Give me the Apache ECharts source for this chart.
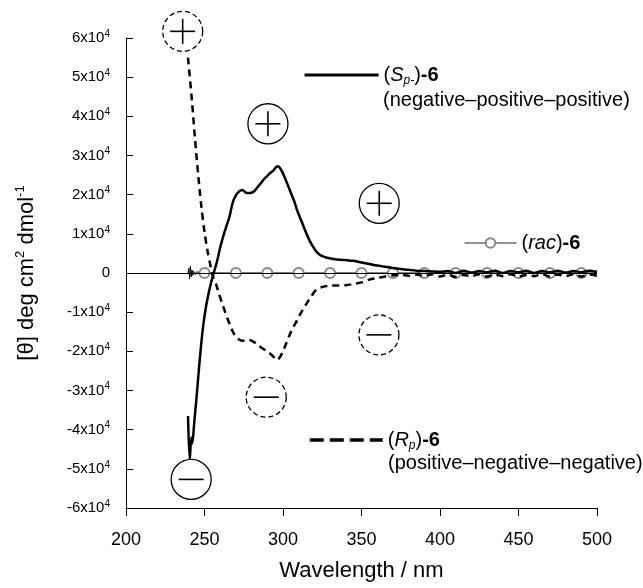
<!DOCTYPE html>
<html>
<head>
<meta charset="utf-8">
<script src="https://cdn.jsdelivr.net/npm/echarts@6/dist/echarts.min.js"></script>
<style>
  html, body { margin: 0; background: #fff; }
  #chart { width: 643px; height: 588px; }
</style>
</head>
<body>
<div id="chart"></div>
<script>
// (Sp)-6, solid trace
const spX = [239.5, 240.6, 241.6, 242.2, 243.5, 245, 247, 249, 251, 253, 255, 256, 258, 260, 262, 264, 266, 268, 270, 272,
  274, 276, 278, 280, 282, 284, 286, 288, 290, 292, 294, 296, 297, 299, 301, 303, 305, 307, 309, 311,
  313, 315, 317, 319, 321, 323, 325, 328, 332, 336, 340, 345, 350, 355, 360, 365, 370, 375, 380, 385,
  390, 395, 400, 405, 410, 415, 420, 425, 430, 435, 440, 445, 450, 455, 460, 465, 470, 475, 480, 485,
  490, 495, 500];
const spY = [-36500, -47800, -42000, -43500, -38000, -31500, -22000, -14000, -8500, -4500, -1200, 200, 3000, 6500, 9500, 12000, 14500, 18000, 19800, 20800,
  21200, 20600, 20400, 20500, 21000, 22000, 23000, 24000, 24800, 25600, 26200, 27200, 27200, 26200, 24500, 22500, 20500, 18500, 16000, 14000,
  12000, 10000, 8200, 6800, 5600, 4800, 4300, 3900, 3600, 3400, 3300, 3100, 2700, 2300, 1900, 1600, 1300, 1000, 800, 600,
  500, 400, 300, 500, 0, 600, 100, 500, 200, 600, 0, 500, 200, 600, 0, 500, 200, 600, 100, 500,
  200, 600, 300];

// (Rp)-6, dashed trace
const rpX = [239.5, 242, 244, 246, 248, 250, 252, 254, 255.5, 257.5, 259, 261, 263, 265, 267, 269, 271, 273, 275, 277,
  279, 281, 283, 285, 287, 289, 291, 293, 295, 296.5, 298, 300, 302, 304, 306, 308, 310, 312, 314, 316,
  318, 320, 322, 324, 327, 330, 335, 340, 345, 350, 355, 360, 365, 370, 375, 380, 385, 390, 395, 400,
  405, 410, 415, 420, 425, 430, 435, 440, 445, 450, 455, 460, 465, 470, 475, 480, 485, 490, 495, 500];
const rpY = [55000, 44000, 34000, 25000, 17000, 10500, 5500, 1500, -1000, -3000, -5000, -7500, -9800, -12000, -14000, -15700, -16700, -17200, -17300, -17400,
  -17200, -17500, -18000, -18700, -19300, -19800, -20300, -21000, -21800, -22200, -21500, -20000, -18000, -16000, -14200, -12800, -11200, -9800, -8500, -7200,
  -6000, -4800, -4100, -3700, -3400, -3200, -3200, -3100, -2800, -2400, -1700, -1300, -900, -600, -500, -700, -400, -800, -300, -900,
  -400, -1000, -500, -800, -300, -900, -400, -800, -300, -900, -500, -800, -300, -900, -400, -800, -300, -900, -400, -700];

// (rac)-6, thin trace with open circles
const racX = [239.5, 240, 240.5, 241, 241.5, 242, 242.5, 243, 244, 245, 246, 247, 248, 250, 270, 290, 310, 330, 350, 370,
  390, 410, 430, 450, 470, 490, 500];
const racY = [0, 1200, -1500, 1800, -1000, 800, -600, 500, -400, 300, -200, 100, 0, 0, 0, 0, 0, 0, 0, 0,
  0, 0, 0, 0, 0, 0, 0];
const racMarkers = [250, 270, 290, 310, 330, 350, 370, 390, 410, 430, 450, 470, 490];

// sign circles: 1 = plus, 0 = minus; dashed 1 = (Rp), 0 = (Sp)
const signX = [236.1, 290.4, 361.3, 241.5, 289.3, 361.1];
const signY = [61700, 38100, 17800, -52700, -31700, -15800];
const signPlus = [1, 1, 1, 0, 0, 0];
const signDashed = [1, 0, 0, 0, 1, 1];

const xTicks = { min: 200, max: 500, interval: 50 };
const yTicks = { min: -60000, max: 60000, interval: 10000 };

const font = 'Liberation Sans';
const chart = echarts.init(document.getElementById('chart'));

const pairs = (xs, ys) => xs.map((x, i) => [x, ys[i]]);

const racData = racX.map((x, i) => ({
  value: [x, racY[i]],
  symbol: racMarkers.includes(x) ? 'emptyCircle' : 'none'
}));

const legendRich = {
  it: { fontStyle: 'italic', fontSize: 20, fontFamily: font, color: '#000' },
  sub: { fontStyle: 'italic', fontSize: 12, fontFamily: font, color: '#000', lineHeight: 12, verticalAlign: 'bottom' },
  b: { fontWeight: 'bold', fontSize: 20, fontFamily: font, color: '#000' }
};
const legendNames = {
  Sp: '({it|S}{sub|p-}){b|-6}',
  Rp: '({it|R}{sub|p}){b|-6}',
  rac: '({it|rac}){b|-6}'
};
const legendBase = (name, left, top, w, h, lineStyle, itemStyle) => ({
  data: [name],
  left: left,
  top: top,
  padding: 0,
  orient: 'horizontal',
  itemWidth: w,
  itemHeight: h,
  itemGap: 0,
  selectedMode: false,
  lineStyle: lineStyle,
  itemStyle: itemStyle,
  formatter: n => legendNames[n],
  textStyle: { fontSize: 20, fontFamily: font, color: '#000', lineHeight: 24, rich: legendRich }
});

const option = {
  animation: false,
  backgroundColor: '#fff',
  grid: { left: 126, right: 46, top: 38, bottom: 80 },
  legend: [
    legendBase('Sp', 303, 63, 74, 14, { width: 3, color: '#000' }, { opacity: 0 }),
    legendBase('rac', 464, 231, 52, 12, { width: 1, color: '#222' }, { color: '#888', borderColor: '#888' }),
    legendBase('Rp', 308, 428, 73, 14, { width: 3.5, color: '#000', type: [14, 6] }, { opacity: 0 })
  ],
  graphic: [
    { type: 'text', left: 383, top: 90, style: { text: '(negative\u2013positive\u2013positive)', font: '20px ' + font, fill: '#000' } },
    { type: 'text', left: 388, top: 453, style: { text: '(positive\u2013negative\u2013negative)', font: '20px ' + font, fill: '#000' } }
  ],
  xAxis: {
    type: 'value',
    min: xTicks.min,
    max: xTicks.max,
    interval: xTicks.interval,
    name: 'Wavelength / nm',
    nameLocation: 'middle',
    nameGap: 52,
    nameTextStyle: { fontSize: 22, fontFamily: font, color: '#000' },
    axisLine: { onZero: false, lineStyle: { color: '#000', width: 1 } },
    axisTick: { inside: false, length: 8, lineStyle: { color: '#000' } },
    axisLabel: { fontSize: 18, fontFamily: font, color: '#000', margin: 23 },
    splitLine: { show: false }
  },
  yAxis: {
    type: 'value',
    min: yTicks.min,
    max: yTicks.max,
    interval: yTicks.interval,
    name: '[\u03b8] deg cm{sup|2} dmol{sup|-1}',
    nameLocation: 'middle',
    nameRotate: 90,
    nameGap: 86,
    nameTextStyle: {
      fontSize: 22, fontFamily: font, color: '#000', lineHeight: 26,
      rich: { sup: { fontSize: 13, fontFamily: font, color: '#000', lineHeight: 13, verticalAlign: 'top' } }
    },
    axisLine: { show: true, lineStyle: { color: '#000', width: 1 } },
    axisTick: { show: true, inside: true, length: 7, lineStyle: { color: '#000' } },
    axisLabel: {
      fontSize: 15, fontFamily: font, color: '#000', margin: 16, lineHeight: 18,
      formatter: v => v === 0 ? '0' : (v / 10000) + 'x10{sup|4}',
      rich: { sup: { fontSize: 10, fontFamily: font, color: '#000', lineHeight: 10, verticalAlign: 'top' } }
    },
    splitLine: { show: false }
  },
  series: [
    {
      name: 'rac',
      type: 'line',
      data: racData,
      symbol: 'emptyCircle',
      symbolSize: 10,
      showAllSymbol: true,
      lineStyle: { color: '#000', width: 1 },
      itemStyle: { color: '#888', borderColor: '#888', borderWidth: 1 },
      markLine: {
        silent: true,
        symbol: 'none',
        label: { show: false },
        lineStyle: { color: '#000', width: 1, type: 'solid' },
        data: [{ yAxis: 0 }]
      },
      z: 2
    },
    {
      name: 'Sp',
      type: 'line',
      data: pairs(spX, spY),
      symbol: 'none',
      smooth: 0.3,
      lineStyle: { color: '#000', width: 2.5 },
      itemStyle: { color: '#000' },
      z: 3
    },
    {
      name: 'Rp',
      type: 'line',
      data: pairs(rpX, rpY),
      symbol: 'none',
      smooth: 0.3,
      lineStyle: { color: '#000', width: 2.5, type: [7, 5] },
      itemStyle: { color: '#000' },
      z: 3
    },
    {
      name: 'signs',
      type: 'custom',
      silent: true,
      clip: false,
      z: 5,
      data: signX.map((x, i) => [x, signY[i], signPlus[i], signDashed[i]]),
      renderItem: (params, api) => {
        const c = api.coord([api.value(0), api.value(1)]);
        const r = 20, a = 12.5;
        const dashed = api.value(3) === 1;
        const children = [
          { type: 'circle', shape: { cx: c[0], cy: c[1], r: r },
            style: { fill: '#fff', stroke: '#000', lineWidth: 1.3, lineDash: dashed ? [5, 3] : null } },
          { type: 'line', shape: { x1: c[0] - a, y1: c[1], x2: c[0] + a, y2: c[1] },
            style: { stroke: '#000', lineWidth: 1.6 } }
        ];
        if (api.value(2) === 1) {
          children.push({ type: 'line', shape: { x1: c[0], y1: c[1] - a, x2: c[0], y2: c[1] + a },
            style: { stroke: '#000', lineWidth: 1.6 } });
        }
        return { type: 'group', children: children };
      }
    }
  ]
};

chart.setOption(option);
</script>
</body>
</html>
